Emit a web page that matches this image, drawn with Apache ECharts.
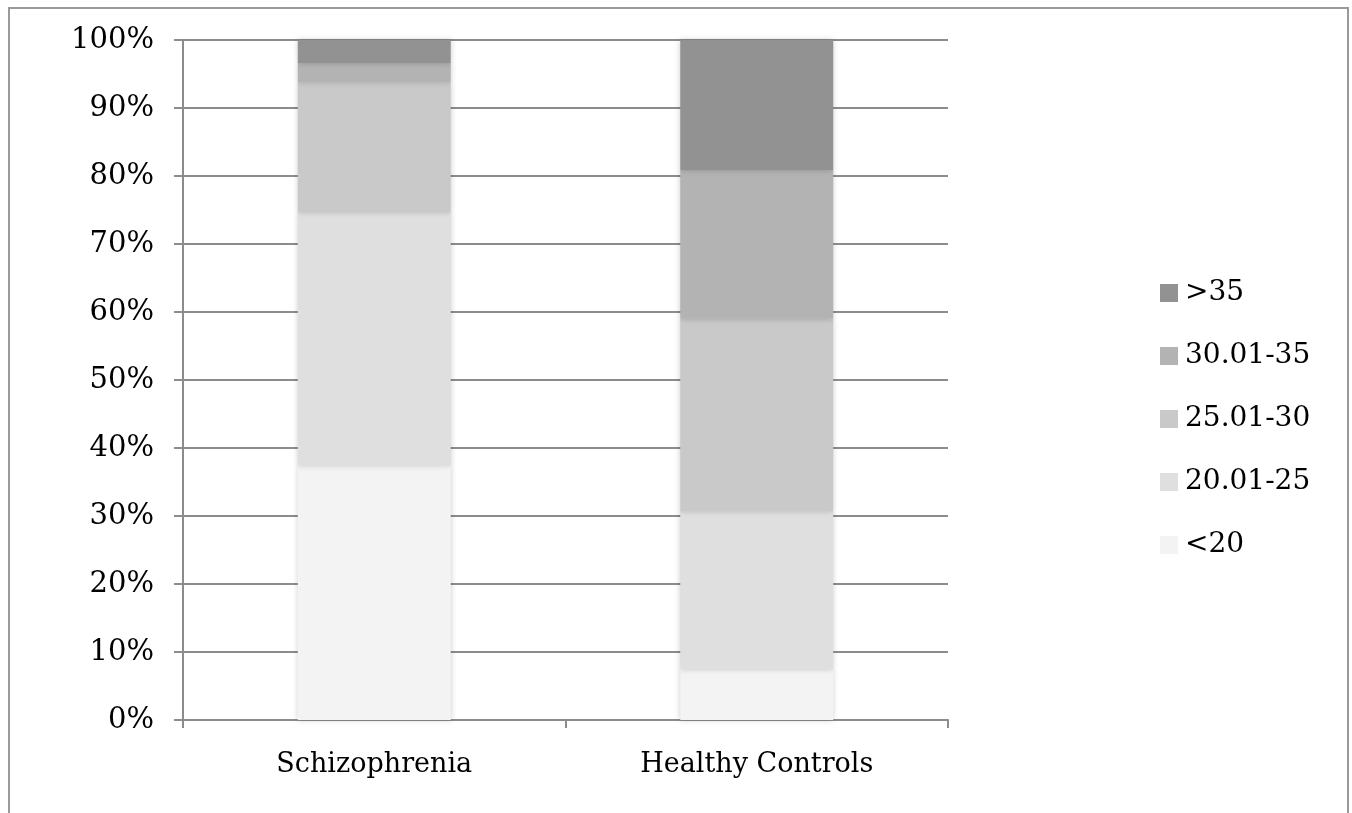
<!DOCTYPE html>
<html><head><meta charset="utf-8">
<script src="https://cdn.jsdelivr.net/npm/echarts@6/dist/echarts.min.js"></script>
<style>html,body{margin:0;padding:0;background:#fff}#c{width:1352px;height:813px}</style>
</head><body><div id="c"></div>
<script>
const categories = ['Schizophrenia', 'Healthy Controls'];
const seriesNames = ['<20', '20.01-25', '25.01-30', '30.01-35', '>35'];
const lt20 = [37.5, 7.5];
const b20_25 = [37.2, 23.2];
const b25_30 = [19.1, 28.3];
const b30_35 = [2.8, 21.9];
const gt35 = [3.4, 19.1];
const yTicks = [0, 10, 20, 30, 40, 50, 60, 70, 80, 90, 100];
const colors = ['#f3f3f3', '#dfdfdf', '#c9c9c9', '#b3b3b3', '#929292'];
const values = [lt20, b20_25, b25_30, b30_35, gt35];
const font = 'DejaVu Serif';

const chart = echarts.init(document.getElementById('c'));
chart.setOption({
  animation: false,
  graphic: [{type: 'rect', shape: {x: 9, y: 8, width: 1339, height: 830}, style: {fill: 'none', stroke: '#9a9a9a', lineWidth: 2}, z: -1}],
  grid: {left: 183, right: 404, top: 40, bottom: 93},
  legend: {
    orient: 'vertical', left: 1155, top: 274, itemGap: 35, itemWidth: 18, itemHeight: 18,
    data: seriesNames.slice().reverse(),
    textStyle: {fontFamily: font, fontSize: 28, color: '#000', padding: [0, 0, 0, 2]},
    icon: 'rect'
  },
  xAxis: {
    type: 'category', data: categories,
    axisLine: {lineStyle: {color: '#8c8c8c', width: 2}},
    axisTick: {show: true, length: 8, lineStyle: {color: '#8c8c8c', width: 2}},
    axisLabel: {fontFamily: font, fontSize: 27, color: '#000', margin: 31}
  },
  yAxis: {
    type: 'value', min: 0, max: 100, interval: 10,
    axisLine: {show: true, lineStyle: {color: '#8c8c8c', width: 2}},
    axisTick: {show: true, length: 9, lineStyle: {color: '#8c8c8c', width: 2}},
    splitLine: {lineStyle: {color: '#8c8c8c', width: 2}},
    axisLabel: {fontFamily: font, fontSize: 29, color: '#000', margin: 29,
      formatter: v => yTicks.includes(v) ? v + '%' : ''}
  },
  series: seriesNames.map((n, i) => ({
    name: n, type: 'bar', stack: 'all', barWidth: '40%',
    data: values[i],
    itemStyle: {color: colors[i], shadowBlur: 6, shadowColor: 'rgba(0,0,0,0.2)'}
  }))
});
</script></body></html>
